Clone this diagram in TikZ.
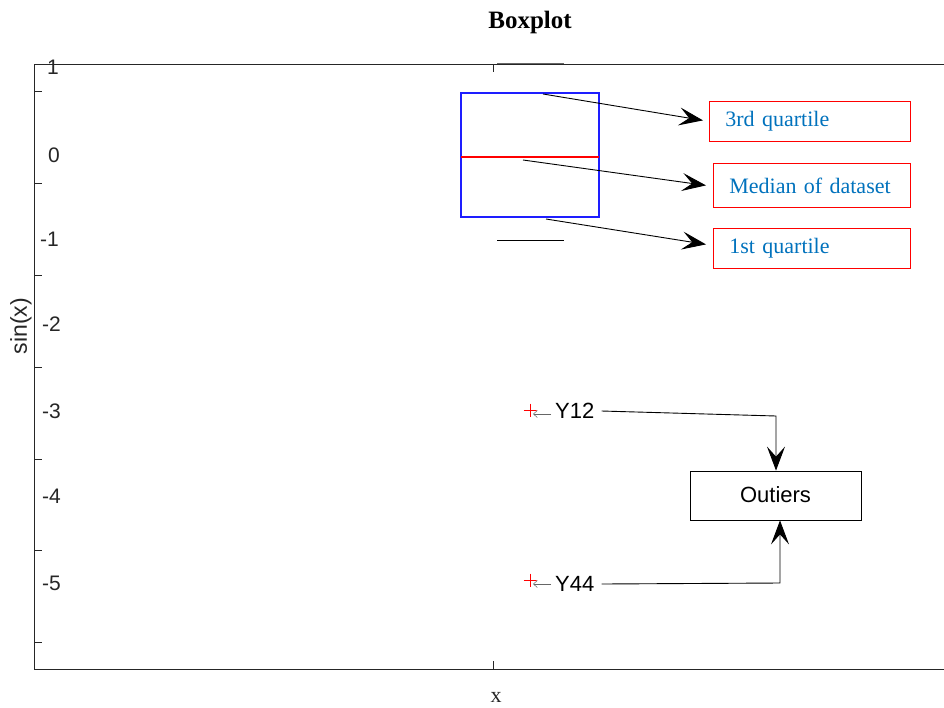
\documentclass[tikz,border=0pt]{standalone}
\usepackage{fontspec}
\setmainfont{Liberation Sans}
\newfontfamily\seriffont{Liberation Serif}
\usetikzlibrary{arrows.meta}
\definecolor{mblue}{RGB}{0,114,189}
\definecolor{boxblue}{RGB}{30,30,255}
\definecolor{medred}{RGB}{255,0,0}
\definecolor{axgray}{RGB}{38,38,38}
\begin{document}
\begin{tikzpicture}[x=1pt,y=-1pt,
  axisline/.style={draw=axgray, line width=0.8pt},
  tickmark/.style={draw=axgray, line width=0.8pt},
  ticklbl/.style={font=\fontsize{21}{25}\selectfont, anchor=east, inner sep=0pt, text=axgray},
  labelbox/.style={draw=medred, line width=0.8pt, text=mblue, font=\seriffont\fontsize{22}{26}\selectfont,
    anchor=north west, inner xsep=16pt, inner ysep=0pt, align=left},
  bigarrow/.style={-{Stealth[length=24pt,width=18pt,inset=10pt]}, line width=0.9pt},
  smallarrow/.style={-{Straight Barb[length=4pt,width=7pt]}, draw=black!60, line width=0.5pt},
  outmark/.style={minimum size=13pt, inner sep=0pt,
    path picture={\draw[medred, line width=0.8pt] (path picture bounding box.north) -- (path picture bounding box.south)
      (path picture bounding box.west) -- (path picture bounding box.east);}},
  outlbl/.style={font=\fontsize{22}{26}\selectfont, inner sep=4pt},
]
\useasboundingbox (0,0) rectangle (944,707);
\fill[white] (0,0) rectangle (944,707);

% axes
\draw[axisline] (944,64) -- (34,64) -- (34,669) -- (944,669);
\foreach \yy in {91,183,275,367,459,550,642} \draw[tickmark] (34,\yy) -- (42,\yy);
\draw[tickmark] (493,64) -- (493,72);
\draw[tickmark] (493,661) -- (493,669);

\node[ticklbl] (t1) at (59,67) {1};
\node[ticklbl] (t0) at (60,155) {0};
\node[ticklbl] (tm1) at (59,239) {-1};
\node[ticklbl] (tm2) at (61,324) {-2};
\node[ticklbl] (tm3) at (61,411) {-3};
\node[ticklbl] (tm4) at (61,496) {-4};
\node[ticklbl] (tm5) at (61,583) {-5};

\node[font=\seriffont\bfseries\fontsize{25}{29}\selectfont] (title) at (530,22) {Boxplot};
\node[font=\seriffont\fontsize{22}{26}\selectfont, text=axgray] (xlbl) at (496,697) {x};
\node[font=\fontsize{23}{27}\selectfont, rotate=90, text=axgray] (ylbl) at (21,326) {sin(x)};

% box plot
\draw[black!60, line width=0.8pt] (497,63) -- (564,63);
\draw[black, line width=0.8pt] (497,240) -- (564,240);
\draw[draw=boxblue, line width=1.3pt] (461,93) rectangle (599,217);
\coordinate (boxw) at (461,157);
\coordinate (boxe) at (599,157);
\draw[draw=medred, line width=1.1pt] (boxw) -- (boxe);
\coordinate (q3start) at (543,94);
\coordinate (medstart) at (523,160);
\coordinate (q1start) at (546,219);

% labels
\node[labelbox, text width=169pt, minimum height=40pt] (q3) at (709,101) {\raisebox{-3pt}{3rd quartile}};
\node[labelbox, text width=165pt, minimum height=44pt] (med) at (713,163) {Median of dataset};
\node[labelbox, text width=165pt, minimum height=40pt] (q1) at (713,228) {\raisebox{-1pt}{1st quartile}};

\draw[bigarrow] (q3start) -- ([shift={(-6,-1)}]q3.west);
\draw[bigarrow] (medstart) -- ([shift={(-7,0)}]med.west);
\draw[bigarrow] (q1start) -- ([shift={(-7,-4)}]q1.west);

% outliers
\node[outmark] (m12) at (530,410) {};
\node[outmark] (m44) at (530,580) {};
\node[outlbl, anchor=west] (y12) at (551,411) {Y12};
\node[outlbl, anchor=west] (y44) at (551,584) {Y44};
\coordinate (a12) at (533,414);
\coordinate (a44) at (533,584);
\draw[smallarrow] (y12.west |- a12) -- (a12);
\draw[smallarrow] (y44.west |- a44) -- (a44);

\node[draw=black, line width=0.8pt, minimum width=171pt, minimum height=49pt, inner sep=0pt,
  font=\fontsize{22}{26}\selectfont] (out) at (775.5,495.5) {\raisebox{2pt}{Outiers}};

\coordinate (c1) at (776,416);
\coordinate (c2) at (780,583);
\draw[bigarrow] ([xshift=3]y12.east) -- (c1) -- (c1 |- out.north);
\draw[bigarrow] ([xshift=3]y44.east) -- (c2) -- (c2 |- out.south);
\end{tikzpicture}
\end{document}
